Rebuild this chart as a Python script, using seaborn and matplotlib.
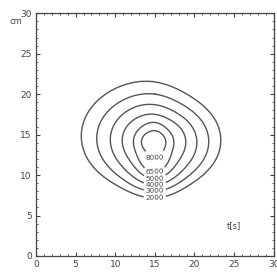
import numpy as np
import matplotlib
matplotlib.use("Agg")
import matplotlib.pyplot as plt
import seaborn as sns
from matplotlib.ticker import MultipleLocator

# contour levels and their labels
levels = [2000, 3000, 4000, 5000, 6500, 8000]
peak_value = 9000

# centre of the hump (cm)
center_x = 15.0
center_y = 14.0

# directions (deg) and the radius (cm) of each contour along them
directions = [0, 45, 90, 135, 180, 225, 270, 315]
radius_2000 = [8.3, 7.4, 7.5, 8.6, 9.2, 7.2, 6.8, 6.9]
radius_3000 = [6.8, 6.0, 6.0, 6.8, 7.3, 6.1, 6.0, 5.9]
radius_4000 = [5.3, 4.7, 4.7, 5.3, 5.6, 5.0, 5.2, 4.9]
radius_5000 = [3.9, 3.5, 3.5, 3.9, 4.1, 3.9, 4.4, 3.8]
radius_6500 = [2.4, 2.3, 2.5, 2.6, 2.7, 2.9, 3.6, 2.7]
radius_8000 = [1.4, 1.4, 1.5, 1.6, 1.7, 1.6, 1.8, 1.5]

# where the labels sit (cm)
label_x = [15.0, 15.0, 15.0, 15.0, 15.0, 15.0]
label_y = [7.2, 8.0, 8.8, 9.6, 10.4, 12.2]

ticks = [0, 5, 10, 15, 20, 25, 30]

sns.set_style("ticks")
plt.rcParams['font.family'] = ['DejaVu Sans']

radii = np.array([radius_2000, radius_3000, radius_4000,
                  radius_5000, radius_6500, radius_8000])


def smooth_radius(row, theta):
    # periodic trig interpolation through the 8 sampled directions
    c = np.fft.rfft(row) / len(row)
    out = np.full_like(theta, c[0].real)
    for k in range(1, len(c)):
        w = 1.0 if k == len(row) // 2 else 2.0
        out += w * (c[k].real * np.cos(k * theta) - c[k].imag * np.sin(k * theta))
    return out


gx = np.linspace(0, 30, 301)
gy = np.linspace(0, 30, 301)
X, Y = np.meshgrid(gx, gy)
dx = X - center_x
dy = Y - center_y
r = np.hypot(dx, dy)
th = np.arctan2(dy, dx)

R = np.array([smooth_radius(row, th) for row in radii])  # (levels, ny, nx)
# value vs radius along each ray: peak at centre, levels at their radii, 0 far out
rad_stack = np.concatenate([np.zeros((1,) + r.shape), R[::-1], 2.0 * R[:1]], axis=0)
val_stack = np.array([peak_value] + levels[::-1] + [0], dtype=float)
Z = np.zeros_like(r)
for i in range(len(val_stack) - 1):
    r0, r1 = rad_stack[i], rad_stack[i + 1]
    m = (r >= r0) & (r < r1)
    t = (r - r0) / (r1 - r0)
    Z[m] = (val_stack[i] + t * (val_stack[i + 1] - val_stack[i]))[m]

fig = plt.figure(figsize=(2.77, 2.77), dpi=100)
ax = fig.add_axes([0.13, 0.076, 0.858, 0.876])

cs = ax.contour(X, Y, Z, levels=levels, colors='#555555', linewidths=1.0)
ax.clabel(cs, fmt='%d', fontsize=5.2, colors='#444444', inline=True,
          inline_spacing=2, manual=list(zip(label_x, label_y)))

ax.set_xlim(0, 30)
ax.set_ylim(0, 30)
ax.set_xticks(ticks)
ax.set_yticks(ticks)
ax.xaxis.set_minor_locator(MultipleLocator(1))
ax.yaxis.set_minor_locator(MultipleLocator(1))
ax.tick_params(which='both', direction='in', top=True, right=True,
               labelsize=6.5, colors='#444444', pad=3)
ax.tick_params(which='major', length=3)
ax.tick_params(which='minor', length=1.5)
for s in ax.spines.values():
    s.set_color('#444444')
    s.set_linewidth(0.9)

ax.text(-0.06, 0.965, 'cm', transform=ax.transAxes, fontsize=6,
        color='#444444', ha='right', va='center')
ax.text(25, 3.7, 't[s]', fontsize=6, color='#444444', ha='center', va='center')

fig.savefig('out.png', dpi=100)
